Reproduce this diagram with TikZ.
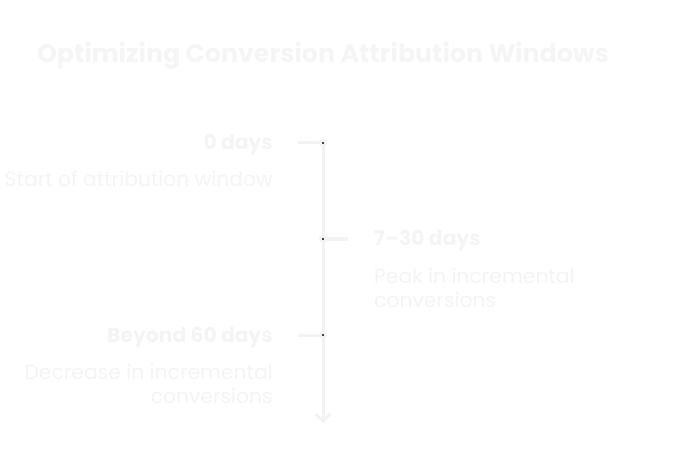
\documentclass[tikz,border=0pt]{standalone}
\usepackage{fontspec}
\setmainfont{Poppins}
\usetikzlibrary{arrows.meta,calc}
\definecolor{txt}{HTML}{F4F4F4}
\definecolor{ttl}{HTML}{F5F5F5}
\definecolor{ln}{HTML}{F3F3F3}
\definecolor{dot}{HTML}{444444}
\tikzset{
  head/.style={font=\fontsize{20.3}{24}\selectfont\bfseries, text=txt, inner sep=0pt},
  desc/.style={font=\fontsize{20.3}{24}\selectfont, text=txt, inner sep=0pt},
  tickline/.style={draw=ln, line width=3pt},
  axis/.style={draw=ln, line width=3pt},
  joint/.style={circle, fill=ln, minimum size=8pt, inner sep=0pt},
}
\begin{document}
\begin{tikzpicture}[x=1pt,y=-1pt]
\useasboundingbox (0,0) rectangle (696,473);
\node[font=\fontsize{25.3}{28}\selectfont\bfseries, text=ttl, inner sep=0pt, anchor=base] (title) at (323,63) {Optimizing Conversion Attribution Windows};
% axis
\coordinate (top) at (323,143);
\coordinate (bot) at (323,423);
\draw[axis, -{Straight Barb[length=7pt,width=15pt]}] (top) -- (bot);
% joints
\node[joint] (j1) at (323,143) {};
\node[joint] (j2) at (323,239) {};
\node[joint] (j3) at (323,335) {};
\coordinate (t1) at (298,143);
\coordinate (t2) at (348,239);
\coordinate (t3) at (298,335);
\draw[tickline] (t1) -- (j1.center);
\draw[tickline] (j2.center) -- (t2);
\draw[tickline] (t3) -- (j3.center);
\foreach \j in {j1,j2,j3} \fill[dot] ($(\j)+(-1,-1)$) rectangle ($(\j)+(1,1)$);
% labels
\node[head, anchor=base east] (h1) at (273,150) {0 days};
\node[desc, anchor=base east, align=right] (d1) at (273,187) {Start of attribution window};
\node[head, anchor=base west] (h2) at (374,246) {7–30 days};
\node[desc, anchor=base west, align=left] (d2) at (374,307) {Peak in incremental\\conversions};
\node[head, anchor=base east] (h3) at (273,342) {Beyond 60 days};
\node[desc, anchor=base east, align=right] (d3) at (273,403) {Decrease in incremental\\conversions};
\end{tikzpicture}
\end{document}
